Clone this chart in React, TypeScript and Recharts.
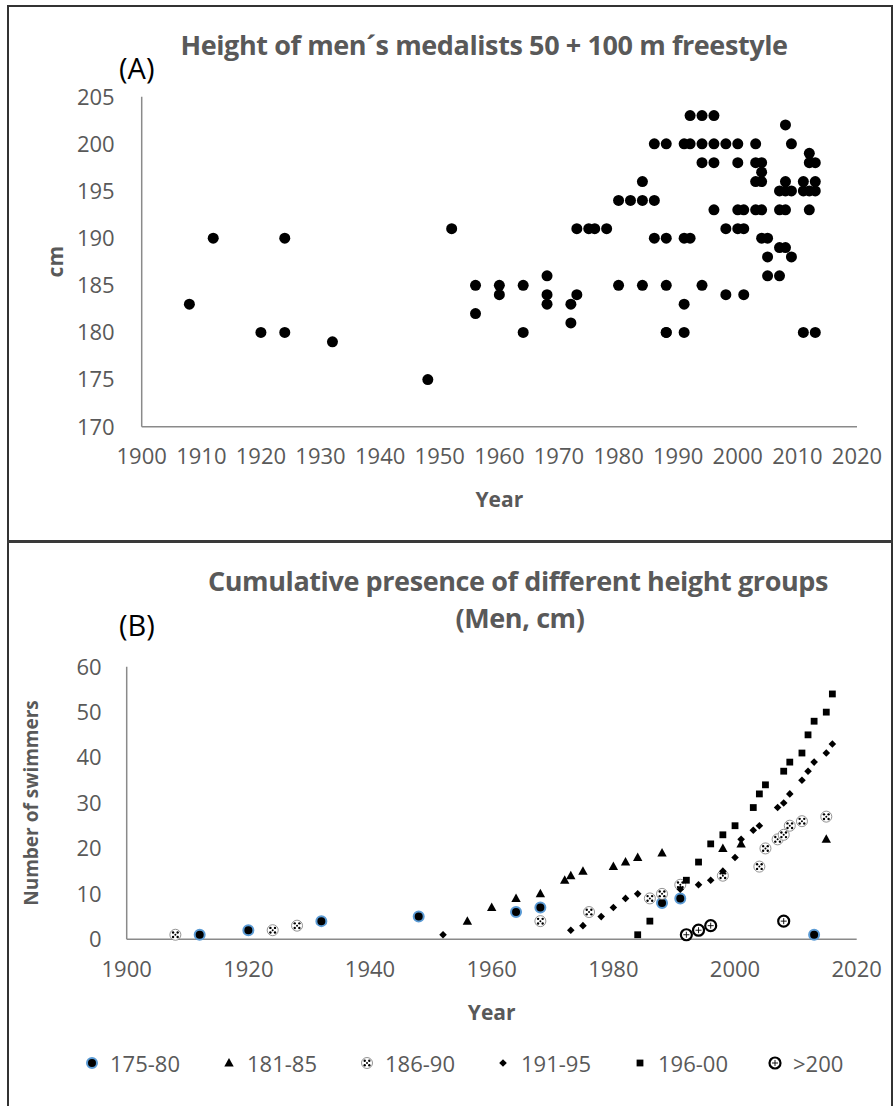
import React from 'react';
import { ScatterChart, Scatter, XAxis, YAxis, Label } from 'recharts';

// Panel A: medalists (year, height in cm)
const medalYears = [
  1908, 1912, 1920, 1924, 1924, 1932, 1948, 1952, 1956, 1956,
  1960, 1960, 1964, 1964, 1968, 1968, 1968, 1972, 1972, 1973,
  1973, 1975, 1976, 1978, 1980, 1980, 1982, 1984, 1986, 1984,
  1984, 1986, 1988, 1986, 1988, 1988, 1988, 1991, 1992, 1994,
  1996, 1998, 2000, 2003, 2009, 1992, 1994, 1996, 2008, 1994,
  1996, 2000, 2003, 2004, 2012, 2013, 2012, 2004, 2003, 2004,
  2008, 2011, 2013, 2007, 2008, 2009, 2011, 2012, 2013, 1996,
  2000, 2001, 2003, 2004, 2007, 2008, 2012, 1998, 2000, 2001,
  1991, 1992, 2004, 2005, 2007, 2008, 2005, 2009, 2005, 2007,
  1994, 1998, 2001, 1991, 1988, 1991, 2011, 2013,
];
const medalHeights = [
  183, 190, 180, 190, 180, 179, 175, 191, 185, 182,
  185, 184, 185, 180, 186, 184, 183, 183, 181, 184,
  191, 191, 191, 191, 185, 194, 194, 194, 194, 196,
  185, 200, 200, 190, 190, 185, 180, 200, 200, 200,
  200, 200, 200, 200, 200, 203, 203, 203, 202, 198,
  198, 198, 198, 198, 198, 198, 199, 197, 196, 196,
  196, 196, 196, 195, 195, 195, 195, 195, 195, 193,
  193, 193, 193, 193, 193, 193, 193, 191, 191, 191,
  190, 190, 190, 190, 189, 189, 188, 188, 186, 186,
  185, 184, 184, 183, 180, 180, 180, 180,
];

const yearTicksA = [1900, 1910, 1920, 1930, 1940, 1950, 1960, 1970, 1980, 1990, 2000, 2010, 2020];
const cmTicks = [170, 175, 180, 185, 190, 195, 200, 205];

// Panel B: cumulative number of swimmers per height group
const yearTicksB = [1900, 1920, 1940, 1960, 1980, 2000, 2020];
const countTicks = [0, 10, 20, 30, 40, 50, 60];

const years175 = [1912, 1920, 1932, 1948, 1964, 1968, 1988, 1991, 2013];
const count175 = [1, 2, 4, 5, 6, 7, 8, 9, 1];

const years181 = [1956, 1960, 1964, 1968, 1972, 1973, 1975, 1980, 1982, 1984, 1988, 1998, 2001, 2015];
const count181 = [4, 7, 9, 10, 13, 14, 15, 16, 17, 18, 19, 20, 21, 22];

const years186 = [1908, 1924, 1928, 1968, 1976, 1986, 1988, 1991, 1998, 2004, 2005, 2007, 2008, 2009, 2011, 2015];
const count186 = [1, 2, 3, 4, 6, 9, 10, 12, 14, 16, 20, 22, 23, 25, 26, 27];

const years191 = [1952, 1973, 1975, 1978, 1980, 1982, 1984, 1991, 1994, 1996, 1998, 2000, 2001, 2003, 2004, 2007, 2008, 2009, 2011, 2012, 2013, 2015, 2016];
const count191 = [1, 2, 3, 5, 7, 9, 10, 11, 12, 13, 15, 18, 22, 24, 25, 29, 30, 32, 35, 37, 39, 41, 43];

const years196 = [1984, 1986, 1992, 1994, 1996, 1998, 2000, 2003, 2004, 2005, 2008, 2009, 2011, 2012, 2013, 2015, 2016];
const count196 = [1, 4, 13, 17, 21, 23, 25, 29, 32, 34, 37, 39, 41, 45, 48, 50, 54];

const years200 = [1992, 1994, 1996, 2008];
const count200 = [1, 2, 3, 4];

const pairs = (xs: number[], ys: number[]) => xs.map((x, i) => ({ x, y: ys[i] }));

const GRAY = '#595959';
const AXIS = '#8a8a8a';
const FONT = "'Open Sans', sans-serif";

// marker shapes
const Dot = ({ cx, cy }: any) => <circle cx={cx} cy={cy} r={5.5} fill="#000" />;
const BlueDot = ({ cx, cy }: any) => (
  <circle cx={cx} cy={cy} r={5} fill="#000" stroke="#5b9bd5" strokeWidth={2} />
);
const Tri = ({ cx, cy }: any) => (
  <polygon points={`${cx},${cy - 5} ${cx + 4.7},${cy + 3.5} ${cx - 4.7},${cy + 3.5}`} fill="#000" />
);
const Checker = ({ cx, cy }: any) => (
  <g>
    <circle cx={cx} cy={cy} r={5.5} fill="#fff" stroke="#777" strokeWidth={0.8} />
    <circle cx={cx - 2.3} cy={cy - 2.3} r={1.2} fill="#000" />
    <circle cx={cx + 2.3} cy={cy - 2.3} r={1.2} fill="#000" />
    <circle cx={cx - 2.3} cy={cy + 2.3} r={1.2} fill="#000" />
    <circle cx={cx + 2.3} cy={cy + 2.3} r={1.2} fill="#000" />
    <circle cx={cx} cy={cy} r={1} fill="#000" />
  </g>
);
const Diamond = ({ cx, cy }: any) => (
  <polygon points={`${cx},${cy - 3.8} ${cx + 3.8},${cy} ${cx},${cy + 3.8} ${cx - 3.8},${cy}`} fill="#000" />
);
const Square = ({ cx, cy }: any) => <rect x={cx - 3.4} y={cy - 3.4} width={6.8} height={6.8} fill="#000" />;
const Ring = ({ cx, cy }: any) => (
  <g>
    <circle cx={cx} cy={cy} r={5.5} fill="#fff" stroke="#000" strokeWidth={2.2} />
    <line x1={cx - 3} y1={cy} x2={cx + 3} y2={cy} stroke="#000" strokeWidth={0.9} />
    <line x1={cx} y1={cy - 3} x2={cx} y2={cy + 3} stroke="#000" strokeWidth={0.9} />
  </g>
);

const groups = [
  { name: '175-80', xs: years175, ys: count175, shape: BlueDot },
  { name: '181-85', xs: years181, ys: count181, shape: Tri },
  { name: '186-90', xs: years186, ys: count186, shape: Checker },
  { name: '191-95', xs: years191, ys: count191, shape: Diamond },
  { name: '196-00', xs: years196, ys: count196, shape: Square },
  { name: '>200', xs: years200, ys: count200, shape: Ring },
];

const tickStyle = { fill: GRAY, fontSize: 22, fontFamily: FONT };
const titleStyle: React.CSSProperties = {
  position: 'absolute',
  color: GRAY,
  fontFamily: FONT,
  fontWeight: 700,
  fontSize: 27,
  letterSpacing: -0.4,
  whiteSpace: 'nowrap',
  textAlign: 'center',
  lineHeight: 1,
};

export default function App() {
  return (
    <div style={{ position: 'absolute', left: 0, top: 0, width: 893, height: 1106, background: '#fff', overflow: 'hidden', fontFamily: FONT }}>
      {/* frame */}
      <div style={{ position: 'absolute', left: 7, top: 5, width: 882, height: 1120, border: '2px solid #333' }} />
      <div style={{ position: 'absolute', left: 7, top: 540, width: 886, height: 3, background: '#3a3a3a' }} />

      {/* Panel A */}
      <div style={{ position: 'absolute', left: 0, top: 0 }}>
        <ScatterChart width={893} height={540} margin={{ top: 96.7, right: 36, bottom: 33.3, left: 41.7 }}>
          <XAxis
            type="number"
            dataKey="x"
            domain={[1900, 2020]}
            ticks={yearTicksA}
            interval={0}
            height={80}
            axisLine={{ stroke: AXIS, strokeWidth: 1.5 }}
            tickLine={false}
            tickSize={0}
            tickMargin={22}
            tick={tickStyle}
          >
            <Label value="Year" position="insideBottom" offset={0} style={{ fill: GRAY, fontSize: 21, fontWeight: 700, fontFamily: FONT }} />
          </XAxis>
          <YAxis
            type="number"
            dataKey="y"
            domain={[170, 205]}
            ticks={cmTicks}
            interval={0}
            width={100}
            axisLine={{ stroke: AXIS, strokeWidth: 1.5 }}
            tickLine={false}
            tickSize={0}
            tickMargin={27}
            tick={tickStyle}
          >
            <Label value="cm" angle={-90} position="insideLeft" offset={14} style={{ textAnchor: 'middle', fill: GRAY, fontSize: 21, fontWeight: 700, fontFamily: FONT }} />
          </YAxis>
          <Scatter data={pairs(medalYears, medalHeights)} shape={Dot} isAnimationActive={false} />
        </ScatterChart>
      </div>
      <div style={{ ...titleStyle, left: 484, top: 31, transform: 'translateX(-50%)' }}>
        Height of men´s medalists 50 + 100 m freestyle
      </div>
      <div style={{ position: 'absolute', left: 119, top: 53, fontSize: 29, color: '#000', fontFamily: FONT, lineHeight: 1 }}>(A)</div>

      {/* Panel B */}
      <div style={{ position: 'absolute', left: 0, top: 541 }}>
        <ScatterChart width={893} height={565} margin={{ top: 125.7, right: 36.3, bottom: 86.7, left: 26.7 }}>
          <XAxis
            type="number"
            dataKey="x"
            domain={[1900, 2020]}
            ticks={yearTicksB}
            interval={0}
            height={80}
            axisLine={{ stroke: AXIS, strokeWidth: 1.5 }}
            tickLine={false}
            tickSize={0}
            tickMargin={22}
            tick={tickStyle}
          >
            <Label value="Year" position="insideBottom" offset={-1} style={{ fill: GRAY, fontSize: 21, fontWeight: 700, fontFamily: FONT }} />
          </XAxis>
          <YAxis
            type="number"
            dataKey="y"
            domain={[0, 60]}
            ticks={countTicks}
            interval={0}
            width={100}
            axisLine={{ stroke: AXIS, strokeWidth: 1.5 }}
            tickLine={false}
            tickSize={0}
            tickMargin={25}
            tick={tickStyle}
          >
            <Label value="Number of swimmers" angle={-90} position="insideLeft" offset={5} style={{ textAnchor: 'middle', fill: GRAY, fontSize: 19, fontWeight: 700, fontFamily: FONT }} />
          </YAxis>
          {groups.map((g) => (
            <Scatter key={g.name} name={g.name} data={pairs(g.xs, g.ys)} shape={g.shape} isAnimationActive={false} />
          ))}
        </ScatterChart>
      </div>
      <div style={{ ...titleStyle, left: 518, top: 567, transform: 'translateX(-50%)' }}>
        Cumulative presence of different height groups
      </div>
      <div style={{ ...titleStyle, left: 520, top: 604, transform: 'translateX(-50%)' }}>(Men, cm)</div>
      <div style={{ position: 'absolute', left: 119, top: 610, fontSize: 29, color: '#000', fontFamily: FONT, lineHeight: 1 }}>(B)</div>

      {/* legend */}
      {groups.map((g, i) => {
        const Shape = g.shape;
        const lefts = [92, 229, 367, 503, 640, 775];
        return (
          <div key={g.name} style={{ position: 'absolute', left: lefts[i] - 8, top: 1050, height: 26, display: 'flex', alignItems: 'center' }}>
            <svg width={16} height={16} style={{ marginRight: 10 }}>
              <Shape cx={8} cy={8} />
            </svg>
            <span style={{ color: GRAY, fontSize: 22, fontFamily: FONT, lineHeight: 1 }}>{g.name}</span>
          </div>
        );
      })}
    </div>
  );
}
